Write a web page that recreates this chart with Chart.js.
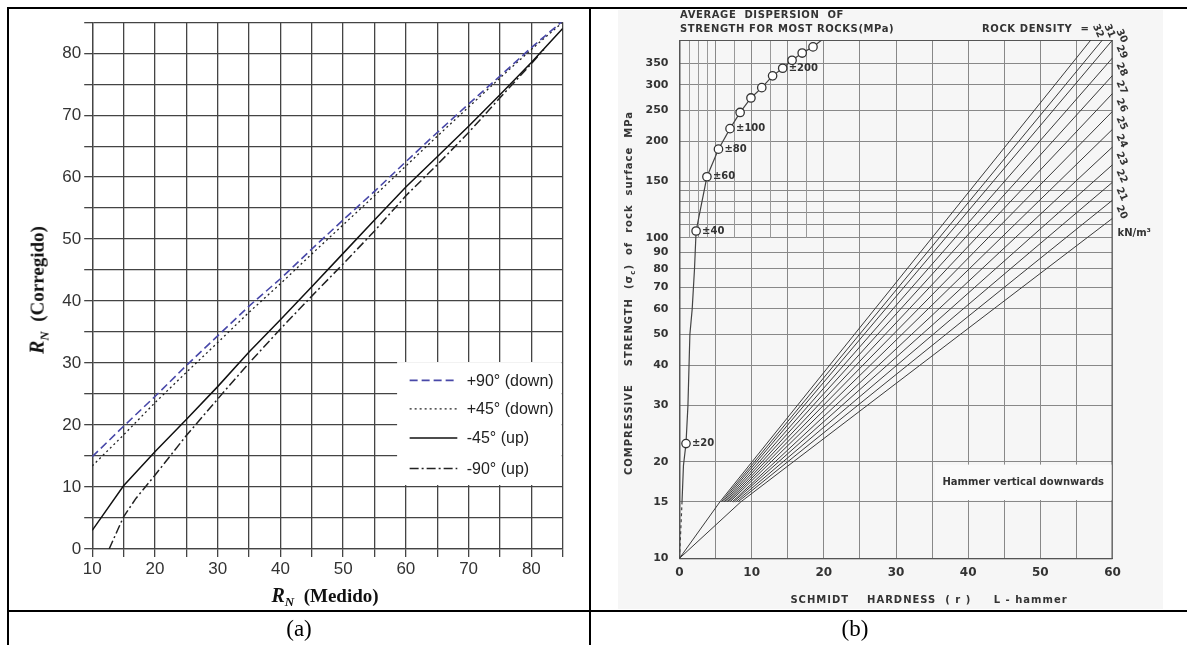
<!DOCTYPE html>
<html>
<head>
<meta charset="utf-8">
<script src="https://cdn.jsdelivr.net/npm/chart.js@4.4.0/dist/chart.umd.min.js"></script>
<style>
body{margin:0;width:1187px;height:645px;overflow:hidden;background:#fff;position:relative}
.ln{position:absolute;background:#000}
.abs{position:absolute;white-space:nowrap}
.cap{font-family:"Liberation Serif",serif;font-size:23px;transform:translate(-50%,-50%)}
.ttlA{font-family:"Liberation Serif",serif;font-weight:bold;font-size:19px;color:#111;transform:translate(-50%,-50%)}
.ttlA i{font-size:20px}
.ttlA sub{font-size:13px;font-style:italic}
.scan{font-family:"DejaVu Sans",sans-serif;font-weight:bold;font-size:10px;color:#333;letter-spacing:0.6px}
canvas{position:absolute}
</style>
</head>
<body>
<div class="ln" style="left:7px;top:7px;width:1180px;height:2px"></div>
<div class="ln" style="left:7px;top:7px;width:2px;height:638px"></div>
<div class="ln" style="left:589px;top:7px;width:2px;height:638px"></div>
<div class="ln" style="left:7px;top:610px;width:1180px;height:2px"></div>
<div class="abs" style="left:618px;top:10px;width:545px;height:599px;background:#f6f6f6"></div>

<canvas id="chartA" width="580" height="601" style="left:9px;top:9px"></canvas>
<canvas id="chartB" width="595" height="601" style="left:592px;top:9px"></canvas>

<!-- panel (a) titles -->
<div class="abs ttlA" style="left:39px;top:290px;transform:translate(-50%,-50%) rotate(-90deg)"><i>R</i><sub>N</sub>&nbsp; (Corregido)</div>
<div class="abs ttlA" style="left:325px;top:597px"><i>R</i><sub>N</sub>&nbsp; (Medido)</div>

<!-- panel (b) texts -->
<div class="abs scan" style="left:680px;top:9px">AVERAGE&nbsp; DISPERSION&nbsp; OF</div>
<div class="abs scan" style="left:680px;top:23px">STRENGTH FOR MOST ROCKS(MPa)</div>
<div class="abs scan" style="left:982px;top:23px">ROCK DENSITY&nbsp; =</div>
<div class="abs scan" style="left:630px;top:293px;letter-spacing:1px;transform:translate(-50%,-50%) rotate(-90deg)">COMPRESSIVE&nbsp;&nbsp;&nbsp; STRENGTH&nbsp; (σ<sub style="font-size:7px">c</sub>)&nbsp; of&nbsp; rock&nbsp; surface&nbsp; MPa</div>
<div class="abs scan" style="left:929px;top:599px;letter-spacing:1px;transform:translate(-50%,-50%)">SCHMIDT&nbsp;&nbsp;&nbsp; HARDNESS&nbsp; ( r )&nbsp;&nbsp;&nbsp;&nbsp; L - hammer</div>

<div class="abs cap" style="left:299px;top:629px">(a)</div>
<div class="abs cap" style="left:855px;top:629px">(b)</div>

<script>
// ---------------- panel (a): R_N correction curves
const rnMedido = [10,15,20,25,30,35,40,45,50,55,60,65,70,75,80,85];
const down90 = [14.9,19.8,24.6,29.6,34.4,39.2,43.6,48.4,53.1,57.7,62.5,67.2,71.8,76.3,80.9,85.2];
const down45 = [13.4,18.4,23.6,28.5,33.3,38.2,42.8,47.6,52.3,57.0,61.8,66.6,71.3,76.0,80.6,85.0];
const up45 = [3.0,10.2,15.7,20.9,26.2,31.8,37.0,42.3,47.7,53.1,58.4,63.3,68.2,73.3,78.5,84.0];
const up90X = [12.7,15,17,20,25,30,35,40,45,50,55,60,65,70,75,80,82];
const up90 = [0,5.2,8.2,11.9,18.3,24.2,30.0,35.5,40.8,46.0,51.3,57.0,62.0,67.2,72.8,78.3,80.6];
const legendA = ['+90° (down)', '+45° (down)', '-45° (up)', '-90° (up)'];

// ---------------- panel (b): Schmidt hardness vs strength
const hardnessLabels = [0,10,20,30,40,50,60];
const strengthTicks = [10,15,20,30,40,50,60,70,80,90,100,110,120,130,140,150,200,250,300,350];
const strengthLabels = ['10','15','20','30','40','50','60','70','80','90','100','','','','','150','200','250','300','350'];
const densities = [20,21,22,23,24,25,26,27,28,29,30,31,32];
const fanStartR = [8.5,8.1,7.8,7.5,7.3,7.0,6.8,6.6,6.4,6.2,6.0,5.8,5.6];
const fanEndR = [60,60,60,60,60,60,60,60,60,60,60,58.6,57.0];
const fanEndS = [115,131,149,169,192,218,248,282,321,364,414,414,414];
const dispR = [0,0.35,0.55,0.9,1.17,1.44,1.76,2.08,2.3,3.8,5.4,7.0,8.4,9.9,11.4,12.9,14.3,15.6,17.0,18.5,19.7];
const dispS = [10,15,19.5,22.8,30,50,60,80,105,155,189,219,246,273,294,320,338,358,377,394,414];
const dispLabels = [null,null,null,'±20',null,null,null,null,'±40','±60','±80','±100','','','','','±200','','','',null];
const minorR = [1.25,2.5,3.75,7.5,12.5,17.5];

const pts = (xs, ys) => xs.map((x, i) => ({x: x, y: ys[i]}));

// legend drawn in a white box inside the plot, like the original figure
const boxLegend = {
    id: 'boxLegend',
    afterDatasetsDraw(chart) {
        const ctx = chart.ctx, xs = chart.scales.x, ys = chart.scales.y;
        const x0 = xs.getPixelForValue(58.6), x1 = chart.chartArea.right - 1;
        const y0 = ys.getPixelForValue(30) - 1, y1 = ys.getPixelForValue(10) - 2;
        const rows = [27.2, 22.6, 17.9, 13.0];
        ctx.save();
        ctx.fillStyle = '#fff';
        ctx.fillRect(x0, y0, x1 - x0, y1 - y0);
        chart.data.datasets.forEach((ds, i) => {
            const y = ys.getPixelForValue(rows[i]);
            ctx.strokeStyle = ds.borderColor;
            ctx.lineWidth = ds.borderWidth;
            ctx.setLineDash(ds.borderDash || []);
            ctx.beginPath();
            ctx.moveTo(xs.getPixelForValue(60.6), y);
            ctx.lineTo(xs.getPixelForValue(68.2), y);
            ctx.stroke();
            ctx.setLineDash([]);
            ctx.fillStyle = '#222';
            ctx.font = '16px "Liberation Sans"';
            ctx.textBaseline = 'middle';
            ctx.fillText(ds.label, xs.getPixelForValue(69.7), y + 1);
        });
        ctx.restore();
    }
};

const gridA = {color: '#444', lineWidth: 1.3, tickLength: 8};
const tickFontA = {family: 'Liberation Sans', size: 17};

new Chart('chartA', {
    type: 'line',
    data: {
        datasets: [
            {label: legendA[0], data: pts(rnMedido, down90), borderColor: '#4848a8', borderWidth: 1.6, borderDash: [8, 4]},
            {label: legendA[1], data: pts(rnMedido, down45), borderColor: '#222', borderWidth: 1.3, borderDash: [2, 3]},
            {label: legendA[2], data: pts(rnMedido, up45), borderColor: '#111', borderWidth: 1.5},
            {label: legendA[3], data: pts(up90X, up90), borderColor: '#222', borderWidth: 1.5, borderDash: [9, 3, 2, 3]}
        ]
    },
    options: {
        responsive: false,
        animation: false,
        elements: {point: {radius: 0}, line: {tension: 0}},
        layout: {padding: {top: 10, right: 26.3, left: 0, bottom: 0}},
        plugins: {legend: {display: false}, tooltip: {enabled: false}},
        scales: {
            x: {
                type: 'linear', min: 10, max: 85,
                grid: gridA, border: {color: '#444', width: 1.3},
                ticks: {stepSize: 5, color: '#333', font: tickFontA, padding: 2, maxRotation: 0,
                    callback: v => v % 10 === 0 ? String(v) : ''},
                afterFit: s => { s.height = 61; }
            },
            y: {
                type: 'linear', min: 0, max: 85,
                grid: gridA, border: {color: '#444', width: 1.3},
                ticks: {stepSize: 5, color: '#333', font: tickFontA, padding: 3,
                    callback: v => v % 10 === 0 ? String(v) : ''},
                afterFit: s => { s.width = 83.2; }
            }
        }
    },
    plugins: [boxLegend]
});

// ---------------- panel (b) helpers
const scanFont = 'bold 10px "DejaVu Sans"';

const scanExtras = {
    id: 'scanExtras',
    beforeDatasetsDraw(chart) {
        const ctx = chart.ctx, xs = chart.scales.x, ys = chart.scales.y, a = chart.chartArea;
        ctx.save();
        // finer vertical rulings in the upper left part
        ctx.strokeStyle = '#999';
        ctx.lineWidth = 1;
        minorR.forEach(r => {
            const px = Math.round(xs.getPixelForValue(r)) + 0.5;
            ctx.beginPath();
            ctx.moveTo(px, a.top);
            ctx.lineTo(px, ys.getPixelForValue(100));
            ctx.stroke();
        });
        // frame
        ctx.strokeStyle = '#555';
        ctx.strokeRect(a.left + 0.5, a.top + 0.5, a.right - a.left - 1, a.bottom - a.top);
        // note box
        const bx = xs.getPixelForValue(35.4), by = ys.getPixelForValue(19.6);
        const bw = a.right - 1 - bx, bh = ys.getPixelForValue(15.2) - by;
        ctx.fillStyle = '#fafafa';
        ctx.fillRect(bx, by, bw, bh);
        ctx.fillStyle = '#333';
        ctx.font = scanFont;
        ctx.textAlign = 'center';
        ctx.textBaseline = 'middle';
        ctx.fillText('Hammer vertical downwards', bx + bw / 2, by + bh / 2);
        ctx.restore();
    },
    afterDatasetsDraw(chart) {
        const ctx = chart.ctx, xs = chart.scales.x, ys = chart.scales.y, a = chart.chartArea;
        ctx.save();
        ctx.fillStyle = '#333';
        ctx.font = scanFont;
        ctx.textBaseline = 'middle';
        // dispersion labels next to the circles
        const meta = chart.getDatasetMeta(densities.length);
        meta.data.forEach((p, i) => {
            if (dispLabels[i]) ctx.fillText(dispLabels[i], p.x + 6, p.y);
        });
        // density labels
        densities.forEach((d, i) => {
            let px, py;
            if (fanEndR[i] >= 60) { px = a.right + 9; py = ys.getPixelForValue(fanEndS[i]) - 6; }
            else { px = xs.getPixelForValue(fanEndR[i]) + 7; py = a.top - 9; }
            if (d === 30) py = a.top - 4;
            ctx.save();
            ctx.translate(px, py);
            ctx.rotate(1.15);
            ctx.textAlign = 'center';
            ctx.fillText(String(d), 0, 0);
            ctx.restore();
        });
        ctx.fillText('kN/m³', a.right + 5, ys.getPixelForValue(103));
        ctx.restore();
    }
};

const fanSets = densities.map((d, i) => {
    const data = [{x: fanStartR[i], y: 15}, {x: fanEndR[i], y: fanEndS[i]}];
    if (i === 0 || i === densities.length - 1) data.unshift({x: 0, y: 10});
    return {label: d + ' kN/m3', data: data, borderColor: '#3a3a3a', borderWidth: 1, pointRadius: 0};
});

const gridB = {color: '#888', lineWidth: 1, drawTicks: false};

new Chart('chartB', {
    type: 'line',
    data: {
        datasets: fanSets.concat([{
            label: 'dispersion',
            data: pts(dispR, dispS),
            borderColor: '#444',
            borderWidth: 1.2,
            pointRadius: ctx => dispLabels[ctx.dataIndex] === null ? 0 : 4.2,
            pointBackgroundColor: '#fff',
            pointBorderColor: '#333',
            pointBorderWidth: 1.3,
            segment: {borderDash: ctx => ctx.p0DataIndex === 0 ? [3, 3] : undefined}
        }])
    },
    options: {
        responsive: false,
        animation: false,
        elements: {line: {tension: 0}},
        layout: {padding: {top: 31, right: 74.5, left: 0, bottom: 0}},
        plugins: {legend: {display: false}, tooltip: {enabled: false}},
        scales: {
            x: {
                type: 'linear', min: 0, max: 60,
                grid: gridB, border: {color: '#555'},
                ticks: {stepSize: 5, color: '#333', font: {family: 'DejaVu Sans', weight: 'bold', size: 12}, padding: 7, maxRotation: 0,
                    callback: v => hardnessLabels.includes(v) ? String(v) : ''},
                afterFit: s => { s.height = 51.7; }
            },
            y: {
                type: 'logarithmic', min: 10, max: 414,
                grid: gridB, border: {color: '#555'},
                afterBuildTicks: s => { s.ticks = strengthTicks.map(v => ({value: v})); },
                ticks: {autoSkip: false, color: '#333', font: {family: 'DejaVu Sans', weight: 'bold', size: 11}, padding: 11,
                    callback: v => { const i = strengthTicks.indexOf(v); return i >= 0 ? strengthLabels[i] : ''; }},
                afterFit: s => { s.width = 87.5; }
            }
        }
    },
    plugins: [scanExtras]
});
</script>
</body>
</html>
